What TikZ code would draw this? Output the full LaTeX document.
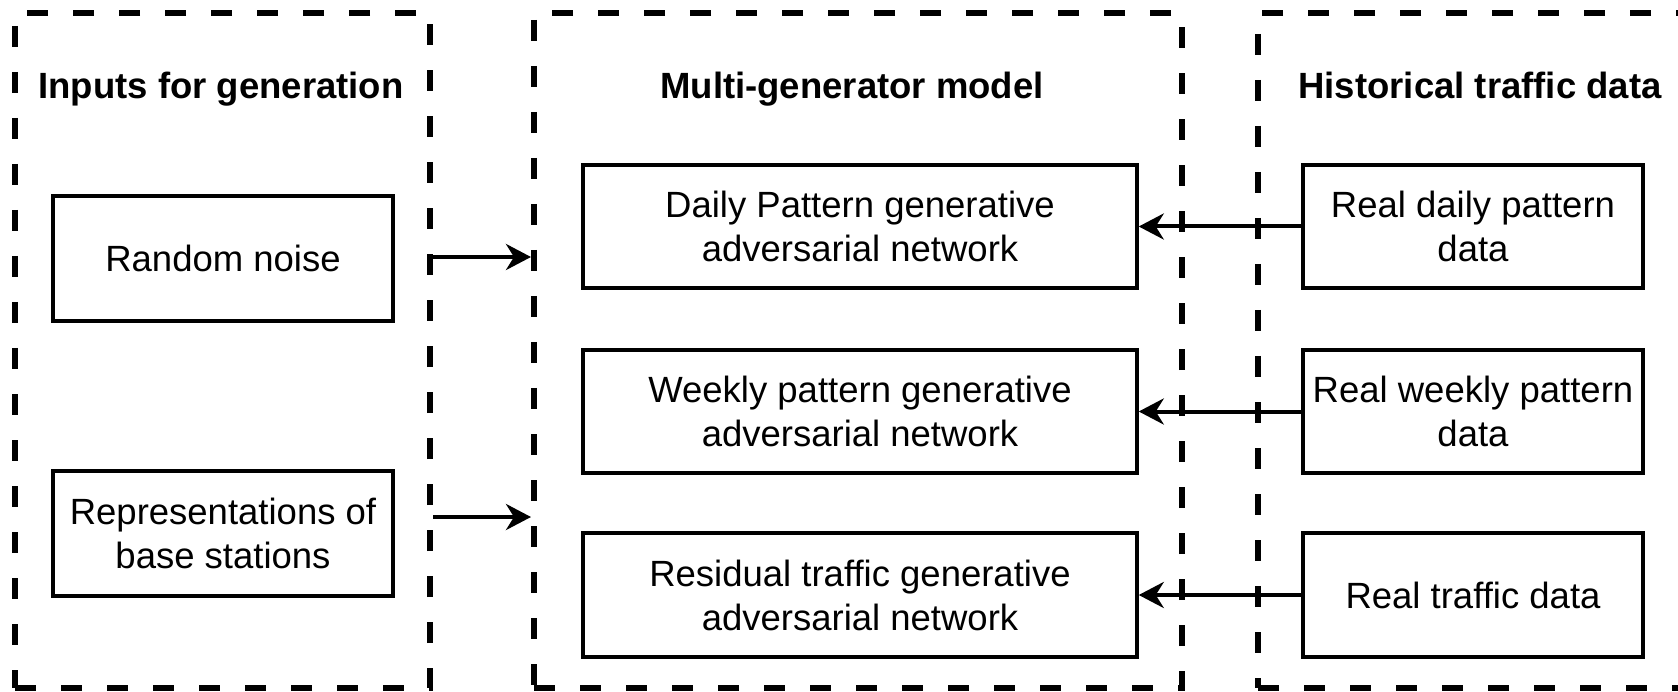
\documentclass[tikz,border=0pt]{standalone}
\usepackage{fontspec}
\setmainfont{Liberation Sans}
\usetikzlibrary{arrows.meta}
\tikzset{
  container/.style={draw, line width=6pt, dash pattern=on 21pt off 25pt, rectangle, inner sep=0pt},
  box/.style={draw, line width=3.5pt, rectangle, inner sep=0pt, align=center,
    font=\fontsize{36.5}{44}\selectfont},
  title/.style={font=\fontsize{36.5}{44}\selectfont\bfseries, anchor=base, inner sep=0pt},
  arr/.style={line width=4pt, -{Stealth[length=25pt, width=26pt, inset=8pt]}}
}
\begin{document}
\begin{tikzpicture}[x=1pt, y=-1pt]
\clip (0,0) rectangle (1678,692);
\useasboundingbox (0,0) rectangle (1678,692);
\fill[white] (0,0) rectangle (1678,692);
% containers
\node[container, minimum width=415pt, minimum height=675pt] (inL) at (222.5,350.5) {};
\node[container, minimum width=648pt, minimum height=675pt] (mid) at (858,350.5) {};
\node[container, minimum width=480pt, minimum height=675pt] (hist) at (1498,350.5) {};
% titles
\node[title] (t1) at (221,99) {Inputs for generation};
\node[title] (t2) at (852,99) {Multi-generator model};
\node[title] (t3) at (1480,99) {Historical traffic data};
% left boxes
\node[box, minimum width=340pt, minimum height=125pt] (noise) at (223,258.5) {Random noise};
\node[box, minimum width=340pt, minimum height=125pt] (reps) at (223,533.5) {Representations of\\base stations};
% middle boxes
\node[box, minimum width=554pt, minimum height=123pt] (daily) at (860,226.5) {Daily Pattern generative\\adversarial network};
\node[box, minimum width=554pt, minimum height=123pt] (weekly) at (860,411.5) {Weekly pattern generative\\adversarial network};
\node[box, minimum width=554pt, minimum height=124pt] (resid) at (860,595) {Residual traffic generative\\adversarial network};
% right boxes
\node[box, minimum width=340pt, minimum height=123pt] (rdaily) at (1473,226.5) {Real daily pattern\\data};
\node[box, minimum width=340pt, minimum height=123pt] (rweekly) at (1473,411.5) {Real weekly pattern\\data};
\node[box, minimum width=340pt, minimum height=124pt] (rtraffic) at (1473,595) {Real traffic data};
% arrows
\draw[arr] (inL.east |- 0,257) -- (mid.west |- 0,257);
\draw[arr] (inL.east |- 0,517) -- (mid.west |- 0,517);
\draw[arr] (rdaily.west) -- (daily.east);
\draw[arr] (rweekly.west) -- (weekly.east);
\draw[arr] (rtraffic.west) -- (resid.east);
\end{tikzpicture}
\end{document}
